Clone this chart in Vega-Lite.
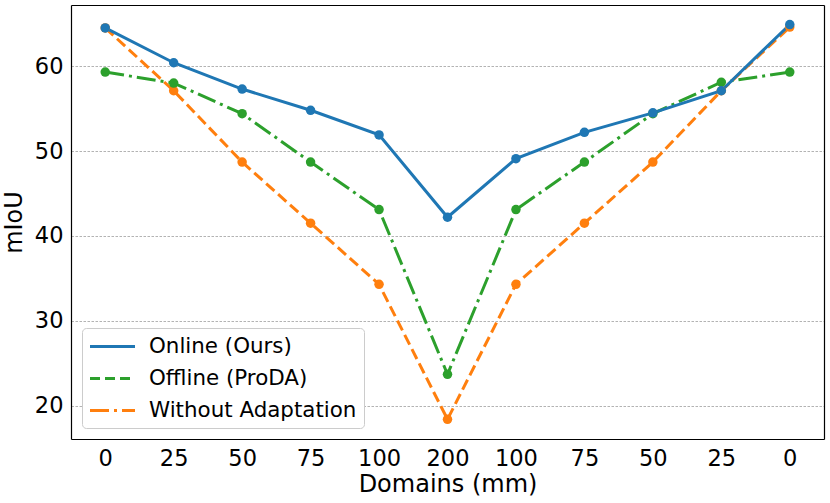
{
  "$schema": "https://vega.github.io/schema/vega-lite/v6.json",
  "width": 753,
  "height": 434,
  "autosize": {"type": "none"},
  "padding": {"left": 71, "top": 5, "right": 6, "bottom": 64},
  "config": {
    "font": "DejaVu Sans",
    "view": {"stroke": null},
    "axis": {
      "domainColor": "black",
      "domainWidth": 1.2,
      "tickColor": "black",
      "tickWidth": 1.2,
      "tickSize": 0,
      "labelFontSize": 22.5,
      "labelColor": "black",
      "labelOverlap": false,
      "labelFlush": false,
      "titleFontSize": 24,
      "titleFontWeight": "normal",
      "titleColor": "black",
      "gridColor": "#a0a0a0",
      "gridDash": [2.5, 1.5],
      "gridWidth": 0.8
    }
  },
  "data": {
    "values": [
      {"idx": 0, "series": "Without Adaptation", "miou": 64.5},
      {"idx": 1, "series": "Without Adaptation", "miou": 57.1},
      {"idx": 2, "series": "Without Adaptation", "miou": 48.7},
      {"idx": 3, "series": "Without Adaptation", "miou": 41.5},
      {"idx": 4, "series": "Without Adaptation", "miou": 34.3},
      {"idx": 5, "series": "Without Adaptation", "miou": 18.4},
      {"idx": 6, "series": "Without Adaptation", "miou": 34.3},
      {"idx": 7, "series": "Without Adaptation", "miou": 41.5},
      {"idx": 8, "series": "Without Adaptation", "miou": 48.7},
      {"idx": 9, "series": "Without Adaptation", "miou": 57.1},
      {"idx": 10, "series": "Without Adaptation", "miou": 64.6},
      {"idx": 0, "series": "Offline (ProDA)", "miou": 59.3},
      {"idx": 1, "series": "Offline (ProDA)", "miou": 58.0},
      {"idx": 2, "series": "Offline (ProDA)", "miou": 54.4},
      {"idx": 3, "series": "Offline (ProDA)", "miou": 48.7},
      {"idx": 4, "series": "Offline (ProDA)", "miou": 43.1},
      {"idx": 5, "series": "Offline (ProDA)", "miou": 23.7},
      {"idx": 6, "series": "Offline (ProDA)", "miou": 43.1},
      {"idx": 7, "series": "Offline (ProDA)", "miou": 48.7},
      {"idx": 8, "series": "Offline (ProDA)", "miou": 54.4},
      {"idx": 9, "series": "Offline (ProDA)", "miou": 58.1},
      {"idx": 10, "series": "Offline (ProDA)", "miou": 59.3},
      {"idx": 0, "series": "Online (Ours)", "miou": 64.5},
      {"idx": 1, "series": "Online (Ours)", "miou": 60.4},
      {"idx": 2, "series": "Online (Ours)", "miou": 57.3},
      {"idx": 3, "series": "Online (Ours)", "miou": 54.8},
      {"idx": 4, "series": "Online (Ours)", "miou": 51.9},
      {"idx": 5, "series": "Online (Ours)", "miou": 42.2},
      {"idx": 6, "series": "Online (Ours)", "miou": 49.1},
      {"idx": 7, "series": "Online (Ours)", "miou": 52.2},
      {"idx": 8, "series": "Online (Ours)", "miou": 54.5},
      {"idx": 9, "series": "Online (Ours)", "miou": 57.1},
      {"idx": 10, "series": "Online (Ours)", "miou": 64.9}
    ]
  },
  "layer": [
    {
      "transform": [{"filter": "datum.series === 'Without Adaptation'"}],
      "mark": {"type": "line", "strokeWidth": 3, "strokeDash": [11, 5]},
      "encoding": {
        "x": {
          "field": "idx",
          "type": "quantitative",
          "scale": {"domain": [-0.5, 10.5], "nice": false, "zero": false},
          "axis": {
            "orient": "bottom",
            "title": "Domains (mm)",
            "values": [0, 1, 2, 2.5, 3, 4, 5, 6, 7, 7.5, 8, 9, 10],
            "labelExpr": "datum.value % 1 === 0 ? ['0','25','50','75','100','200','100','75','50','25','0'][datum.value] : ''",
            "labelPadding": 8,
            "titlePadding": 3,
            "grid": false,
            "encode": {"ticks": {"update": {"y2": {"signal": "datum.value % 1 === 0 ? -5 : -3"}}}}
          }
        },
        "y": {
          "field": "miou",
          "type": "quantitative",
          "scale": {"domain": [16.08, 67.2], "nice": false, "zero": false},
          "axis": {
            "orient": "left",
            "title": "mIoU",
            "values": [18, 20, 22, 24, 26, 28, 30, 32, 34, 36, 38, 40, 42, 44, 46, 48, 50, 52, 54, 56, 58, 60, 62, 64, 66],
            "labelExpr": "datum.value % 10 === 0 ? datum.label : ''",
            "labelPadding": 8,
            "titlePadding": 8,
            "grid": true,
            "gridOpacity": {"condition": {"test": "datum.value % 10 === 0", "value": 1}, "value": 0},
            "encode": {
              "ticks": {"update": {"x2": {"signal": "datum.value % 10 === 0 ? 5 : 3"}}}
            }
          }
        },
        "color": {
          "field": "series",
          "type": "nominal",
          "scale": {
            "domain": ["Online (Ours)", "Offline (ProDA)", "Without Adaptation"],
            "range": ["#1f77b4", "#2ca02c", "#ff7f0e"]
          },
          "legend": {
            "title": null,
            "orient": "bottom-left",
            "offset": 11,
            "padding": 7,
            "symbolType": "M-2.25,0H2.25",
            "symbolSize": 400,
            "symbolStrokeWidth": 3,
            "symbolOffset": 12,
            "labelFontSize": 21.4,
            "labelColor": "black",
            "labelOffset": 25,
            "labelLimit": 0,
            "rowPadding": 10,
            "strokeColor": "#cccccc",
            "fillColor": "white",
            "cornerRadius": 4,
            "encode": {
              "symbols": {
                "update": {
                  "strokeDash": {"signal": "datum.value === 'Offline (ProDA)' ? [10, 5] : datum.value === 'Without Adaptation' ? [19, 5, 3, 5] : [1, 0]"}
                }
              }
            }
          }
        }
      }
    },
    {
      "transform": [{"filter": "datum.series === 'Offline (ProDA)'"}],
      "mark": {"type": "line", "strokeWidth": 3, "strokeDash": [19, 5, 3, 5]},
      "encoding": {
        "x": {"field": "idx", "type": "quantitative", "axis": null},
        "y": {"field": "miou", "type": "quantitative", "axis": null},
        "color": {"field": "series", "type": "nominal"}
      }
    },
    {
      "transform": [{"filter": "datum.series === 'Online (Ours)'"}],
      "mark": {"type": "line", "strokeWidth": 3},
      "encoding": {
        "x": {"field": "idx", "type": "quantitative", "axis": null},
        "y": {"field": "miou", "type": "quantitative", "axis": null},
        "color": {"field": "series", "type": "nominal"}
      }
    },
    {
      "mark": {"type": "circle", "size": 90, "opacity": 1},
      "encoding": {
        "x": {
          "field": "idx",
          "type": "quantitative",
          "axis": {
            "orient": "top",
            "title": null,
            "labels": false,
            "values": [0, 1, 2, 2.5, 3, 4, 5, 6, 7, 7.5, 8, 9, 10],
            "grid": false,
            "encode": {"ticks": {"update": {"y2": {"signal": "datum.value % 1 === 0 ? 5 : 3"}}}}
          }
        },
        "y": {
          "field": "miou",
          "type": "quantitative",
          "axis": {
            "orient": "right",
            "title": null,
            "labels": false,
            "values": [18, 20, 22, 24, 26, 28, 30, 32, 34, 36, 38, 40, 42, 44, 46, 48, 50, 52, 54, 56, 58, 60, 62, 64, 66],
            "grid": false,
            "encode": {"ticks": {"update": {"x2": {"signal": "datum.value % 10 === 0 ? -5 : -3"}}}}
          }
        },
        "color": {"field": "series", "type": "nominal", "legend": null}
      }
    }
  ]
}
